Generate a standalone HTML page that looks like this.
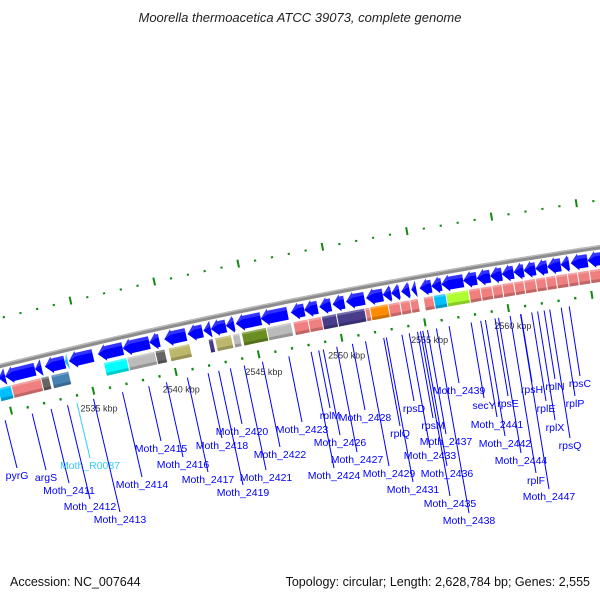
<!DOCTYPE html>
<html><head><meta charset="utf-8">
<style>
html,body{margin:0;padding:0;background:#fff;}
#wrap{position:relative;width:600px;height:600px;overflow:hidden;font-family:"Liberation Sans",sans-serif;}
svg{position:absolute;left:0;top:0;}
</style></head>
<body>
<div id="wrap">
<svg id="map" width="600" height="600" viewBox="0 0 600 600">
<text x="300" y="22" text-anchor="middle" font-size="13" font-style="italic" fill="#222" font-family="Liberation Sans, sans-serif">Moorella thermoacetica ATCC 39073, complete genome</text>
<text x="10" y="586" font-size="12.5" fill="#111" font-family="Liberation Sans, sans-serif">Accession: NC_007644</text>
<text x="590" y="586" text-anchor="end" font-size="12.5" fill="#111" font-family="Liberation Sans, sans-serif">Topology: circular; Length: 2,628,784 bp; Genes: 2,555</text>
<g id="layer"></g>
</svg>
</div>
<script>
// ---- data (kbp) ----
const geneStarts = [2529.5,2529.9,2531.7,2532.3,2533.5,2533.75,2535.5,2537.0,2538.6,2539.5,2540.9,2541.85,2542.3,2543.2,2543.8,2545.3,2547.1,2547.9,2548.8,2549.6,2550.4,2551.6,2552.6,2553.1,2553.7,2554.3,2554.8,2555.5,2556.1,2557.4,2558.2,2559.0,2559.7,2560.4,2561.0,2561.7,2562.4,2563.2,2563.8,2564.8];
const geneEnds   = [2529.9,2531.7,2532.1,2533.5,2533.7,2535.2,2537.0,2538.6,2539.2,2540.8,2541.8,2542.3,2543.2,2543.7,2545.3,2546.9,2547.9,2548.7,2549.5,2550.3,2551.5,2552.6,2553.1,2553.6,2554.2,2554.6,2555.5,2556.1,2557.4,2558.2,2559.0,2559.7,2560.4,2561.0,2561.7,2562.4,2563.2,2563.7,2564.8,2565.6];
const geneColors = ["#0000ff","#0000ff","#0000ff","#0000ff","#33bbff","#0000ff","#0000ff","#0000ff","#0000ff","#0000ff","#0000ff","#0000ff","#0000ff","#0000ff","#0000ff","#0000ff","#0000ff","#0000ff","#0000ff","#0000ff","#0000ff","#0000ff","#0000ff","#0000ff","#0000ff","#0000ff","#0000ff","#0000ff","#0000ff","#0000ff","#0000ff","#0000ff","#0000ff","#0000ff","#0000ff","#0000ff","#0000ff","#0000ff","#0000ff","#0000ff"];
const boxStarts = [2529.3,2530.1,2531.9,2532.5,2535.7,2537.1,2538.8,2539.6,2542.0,2542.4,2543.45,2544.0,2545.5,2547.1,2548.0,2548.8,2549.7,2551.4,2551.7,2552.8,2553.5,2554.1,2554.9,2555.5,2556.25,2557.6,2558.3,2559.0,2559.6,2560.3,2560.9,2561.6,2562.2,2562.8,2563.5,2564.1,2564.8];
const boxEnds   = [2530.1,2531.9,2532.4,2533.6,2537.1,2538.8,2539.4,2540.9,2542.3,2543.4,2543.9,2545.5,2547.0,2548.0,2548.8,2549.7,2551.4,2551.7,2552.8,2553.5,2554.1,2554.6,2555.5,2556.25,2557.6,2558.3,2559.0,2559.6,2560.3,2560.9,2561.6,2562.2,2562.8,2563.5,2564.1,2564.8,2565.6];
const boxColors = ["#00bfff","#f08080","#666666","#4682b4","#00ffff","#bbbbbb","#666666","#bdb76b","#483d8b","#bdb76b","#bbbbbb","#6b8e23","#bbbbbb","#f08080","#f08080","#483d8b","#483d8b","#f08080","#ff8c00","#f08080","#f08080","#f08080","#f08080","#00bfff","#adff2f","#f08080","#f08080","#f08080","#f08080","#f08080","#f08080","#f08080","#f08080","#f08080","#f08080","#f08080","#f08080"];
const scaleTicks = [2535,2540,2545,2550,2555,2560];
const scaleLabels = ["2535 kbp","2540 kbp","2545 kbp","2550 kbp","2555 kbp","2560 kbp"];
const labelNames = ["pyrG","argS","Moth_2411","Moth_R0087","Moth_2412","Moth_2413","Moth_2414","Moth_2415","Moth_2416","Moth_2417","Moth_2418","Moth_2419","Moth_2420","Moth_2421","Moth_2422","Moth_2423","rplM","Moth_2424","Moth_2426","Moth_2428","Moth_2427","rplQ","Moth_2429","Moth_2431","rpsD","rpsM","Moth_2433","Moth_2437","Moth_2436","Moth_2435","Moth_2438","Moth_2439","secY","rpsE","Moth_2441","Moth_2442","Moth_2444","rplF","Moth_2447","rpsH","rplE","rplN","rplX","rpsC","rplP","rpsQ"];
const labelX = [17,46,69,90,90,120,142,161,183,208,222,243,242,266,280,302,330,334,340,365,357,400,389,413,414,433,430,446,447,450,469,459,484,508,497,505,521,536,549,532,546,555,555,580,575,570];
const labelY = [475,477,490,465,506,519,484,448,464,479,445,492,431,477,454,429,415,475,442,417,459,433,473,489,408,425,455,441,473,503,520,390,405,403,424,443,460,480,496,389,408,386,427,383,403,445];

// ---- geometry ----
const R = 6370, CX = 1536, CY = 6548;
const TH0 = Math.atan2(343.9 - CY, 92 - CX);
const DTH = 17.05 / R;
const KSHIFT = 0.3;
function pt(k, d) { const th = TH0 + (k - 2535 - KSHIFT) * DTH; const r = R - d; return [CX + r * Math.cos(th), CY + r * Math.sin(th)]; }
const NS = "http://www.w3.org/2000/svg";
const layer = document.getElementById("layer");
function mk(tag, attrs) { const e = document.createElementNS(NS, tag); for (const a in attrs) e.setAttribute(a, attrs[a]); layer.appendChild(e); return e; }
function band(k1, k2, d1, d2) {
  const pts = []; const n = Math.max(2, Math.ceil((k2 - k1) / 0.5) + 1);
  for (let i = 0; i < n; i++) pts.push(pt(k1 + (k2 - k1) * i / (n - 1), d1));
  for (let i = n - 1; i >= 0; i--) pts.push(pt(k1 + (k2 - k1) * i / (n - 1), d2));
  return pts.map(p => p[0].toFixed(1) + "," + p[1].toFixed(1)).join(" ");
}

// backbone
const bb = mk("polygon", { points: band(2528, 2567, -2.2, 2.2), fill: "#8c8c8c" });


const bbh = mk("polygon", { points: band(2528, 2567, -2.2, -0.8), fill: "#bdbdbd" });



// outer ticks
for (let k = 2527; k <= 2568; k++) {
  const kk = k - 0.35; const long = (k % 5 === 0);
  const a = pt(kk, long ? -51 : -47.5), b = pt(kk, long ? -43 : -45.5);
  const t = mk("line", { x1: a[0], y1: a[1], x2: b[0], y2: b[1], stroke: "#128a12", "stroke-width": long ? 2 : 2.2 });
  
  
}
// inner ticks
for (let k = 2529; k <= 2566; k++) {
  const long = (k % 5 === 0);
  const kk = k - 0.25;
  const a = pt(kk, long ? 42 : 45.5), b = pt(kk, long ? 50 : 48);
  const t = mk("line", { x1: a[0], y1: a[1], x2: b[0], y2: b[1], stroke: "#128a12", "stroke-width": long ? 2 : 2.2 });
  
  
}
for (let i = 0; i < scaleTicks.length; i++) {
  const p = pt(scaleTicks[i] - 0.25, 62);
  const t = mk("text", { x: p[0] + 2, y: p[1] + 5, "text-anchor": "middle", "font-size": "9", fill: "#333", "font-family": "Liberation Sans, sans-serif" });
  t.textContent = scaleLabels[i];
  
  
}

// gene arrows (reverse strand, pointing to lower coordinate)
for (let i = 0; i < geneStarts.length; i++) {
  const k1 = geneStarts[i], k2 = geneEnds[i];
  const h = Math.min(k2 - k1, 0.45);
  const tip = pt(k1, 11.5), hT = pt(k1 + h, 3), hB = pt(k1 + h, 20), eT = pt(k2, 5), eB = pt(k2, 18);
  const hT2 = pt(k1 + h, 5), hB2 = pt(k1 + h, 18);
  const P = [tip, hT, hT2, eT, eB, hB2, hB].map(p => p[0].toFixed(1) + "," + p[1].toFixed(1)).join(" ");
  const g = mk("polygon", { points: P, fill: geneColors[i] });
  
  
  const hl = mk("polygon", { points: [tip, hT, hT2, eT, pt(k2, 8.5), pt(k1 + h, 8.5)].map(p => p[0].toFixed(1) + "," + p[1].toFixed(1)).join(" "), fill: "rgba(255,255,255,0.2)" });
  
  
}
// feature boxes
for (let i = 0; i < boxStarts.length; i++) {
  const b = mk("polygon", { points: band(boxStarts[i] + 0.03, boxEnds[i] - 0.03, 21.5, 34.5), fill: boxColors[i] });
  
  
  const s = mk("polygon", { points: band(boxStarts[i] + 0.03, boxEnds[i] - 0.03, 31.5, 34.5), fill: "rgba(0,0,0,0.2)" });
  
  
  const hl = mk("polygon", { points: band(boxStarts[i] + 0.03, boxEnds[i] - 0.03, 21.5, 23.5), fill: "rgba(255,255,255,0.25)" });
  
  
}

// labels with leader lines
for (let i = 0; i < labelNames.length; i++) {
  const col = labelNames[i] === "Moth_R0087" ? "#33ccff" : "#0000ff";
  const ex = labelX[i], ey = labelY[i] - 7;
  const dx = ex - CX, dy = ey - CY, L = Math.hypot(dx, dy);
  const r = R - 54;
  const sx = CX + dx / L * r, sy = CY + dy / L * r;
  const ln = mk("line", { x1: sx.toFixed(1), y1: sy.toFixed(1), x2: ex, y2: ey, stroke: col, "stroke-width": 1 });
  
  
  const t = mk("text", { x: ex, y: labelY[i] + 4, "text-anchor": "middle", "font-size": "10.5", fill: col, "font-family": "Liberation Sans, sans-serif" });
  t.textContent = labelNames[i];
  
  
}
</script>
</body></html>
